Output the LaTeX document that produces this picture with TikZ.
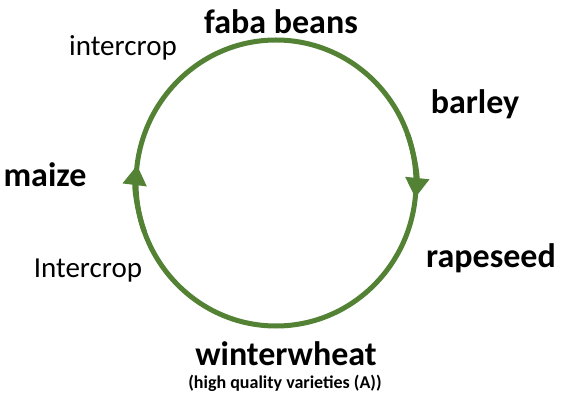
\documentclass[tikz,border=0pt]{standalone}
\usepackage{fontspec}
\setmainfont{Carlito}
\usetikzlibrary{arrows.meta}
\definecolor{cyclegreen}{RGB}{84,130,53}
\begin{document}
\begin{tikzpicture}[x=1pt,y=1pt,
  crop/.style={font=\fontsize{34}{40}\selectfont\bfseries,inner sep=0pt},
  note/.style={font=\fontsize{29}{34}\selectfont,inner sep=0pt},
  sub/.style={font=\fontsize{18}{21}\selectfont\bfseries,inner sep=0pt},
  ring/.style={cyclegreen, line width=5pt},
  tip/.style={ring, -{Triangle[length=20pt,width=23pt]}}]
\useasboundingbox (0,0) rectangle (564,396);
\fill[white] (0,0) rectangle (564,396);
\coordinate (c) at (276,213);
\draw[ring] (c) ellipse[x radius=140, y radius=143];
\draw[tip] (c) ++(20:140 and 143) coordinate (r0)
  arc[start angle=20, end angle=-6, x radius=140, y radius=143] coordinate (rtip);
\draw[tip] (c) ++(200:140 and 143) coordinate (l0)
  arc[start angle=200, end angle=172.8, x radius=140, y radius=143] coordinate (ltip);
\node[crop] (faba) at (281,374) {faba beans};
\node[note] (ic1) at (123,348) {intercrop};
\node[crop] (barley) at (475,292) {barley};
\node[crop] (maize) at (45,221) {maize};
\node[crop] (rape) at (491,138) {rapeseed};
\node[note] (ic2) at (88,125) {Intercrop};
\node[crop] (ww) at (286,42) {winterwheat};
\node[sub] (hq) at (285,13) {(high quality varieties (A))};
\end{tikzpicture}
\end{document}
